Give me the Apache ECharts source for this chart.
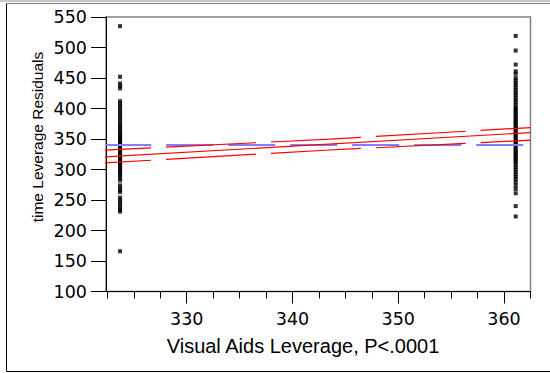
<!DOCTYPE html>
<html><head><meta charset="utf-8">
<script src="https://cdn.jsdelivr.net/npm/echarts@6/dist/echarts.min.js"></script>
<style>html,body{margin:0;padding:0;background:#fff}#c{width:550px;height:373px}</style>
</head><body><div id="c"></div>
<script>
// ---- data ----
const leftGroupX = 323.7;
const rightGroupX = 361.1;
const leftResiduals = [535, 452, 441, 437, 433, 412, 408, 404, 400, 396, 392, 388, 384, 380, 376, 372, 369, 366, 362, 359, 356, 353, 350, 347, 344, 341, 338, 335, 332, 329, 326, 323, 320, 317, 314, 311, 308, 305, 302, 299, 296, 293, 290, 286, 282, 274, 270, 266, 263, 254, 250, 246, 242, 238, 234, 231, 166];
const rightResiduals = [519, 495, 472, 461, 457, 450, 446, 442, 438, 434, 430, 426, 422, 418, 414, 410, 406, 402, 399, 396, 393, 390, 387, 384, 381, 378, 375, 372, 369, 366, 363, 360, 357, 354, 351, 348, 345, 342, 339, 336, 333, 330, 327, 324, 321, 318, 315, 312, 308, 304, 300, 296, 292, 288, 284, 279, 274, 268, 261, 240, 223];
const fitX = [322.2, 362.5];
const fitY = [320.7, 360.5];
const bandX = [322.2, 343.5, 362.5];
const upperY = [331.6, 349.8, 368.8];
const lowerY = [310.7, 332.0, 348.0];
const meanX = [322.2, 362.5];
const meanY = [340, 340];
const xMajorTicks = [330, 340, 350, 360];
const xMinorTicks = [322.5, 325, 327.5, 332.5, 335, 337.5, 342.5, 345, 347.5, 352.5, 355, 357.5, 362.5];
const xTitle = 'Visual Aids Leverage, P<.0001';
const yTitle = 'time Leverage Residuals';

const zip = (xs, ys) => xs.map((x, i) => [x, ys[i]]);
const XMIN = 322.37, XMAX = 362.5;

const chart = echarts.init(document.getElementById('c'), null, {renderer: 'svg'});
chart.setOption({
  animation: false,
  backgroundColor: '#fff',
  grid: {left: 106, top: 17, width: 424.5, height: 274.5, show: true, borderColor: '#808080', borderWidth: 1.5, backgroundColor: 'transparent'},
  xAxis: [{
    type: 'value', min: XMIN, max: XMAX, position: 'bottom', offset: 0,
    axisLine: {show: true, onZero: false, lineStyle: {color: '#000', width: 1}},
    axisTick: {show: true, length: 12, customValues: xMajorTicks, lineStyle: {color: '#000'}},
    axisLabel: {show: true, customValues: xMajorTicks, margin: 18, color: '#000', fontSize: 17.5, fontFamily: 'DejaVu Sans'},
    splitLine: {show: false}
  }, {
    type: 'value', min: XMIN, max: XMAX, position: 'bottom', offset: 0,
    axisLine: {show: false},
    axisTick: {show: true, length: 7, customValues: xMinorTicks, lineStyle: {color: '#000'}},
    axisLabel: {show: false},
    splitLine: {show: false}
  }],
  yAxis: {
    type: 'value', min: 100, max: 550, interval: 50,
    axisLine: {show: true, onZero: false, lineStyle: {color: '#000', width: 1}},
    axisTick: {show: true, length: 15, lineStyle: {color: '#000'}},
    axisLabel: {margin: 19, color: '#000', fontSize: 17.5, fontFamily: 'DejaVu Sans'},
    splitLine: {show: false}
  },
  graphic: [
    {type: 'rect', shape: {x: 6.5, y: 3.5, width: 545, height: 368}, style: {fill: 'none', stroke: '#000', lineWidth: 1}, silent: true, z: 0},
    {type: 'line', shape: {x1: 0, y1: 1, x2: 550, y2: 1}, style: {stroke: '#c8c8c8', lineWidth: 2}, silent: true},
    {type: 'line', shape: {x1: 6, y1: 3.5, x2: 550, y2: 3.5}, style: {stroke: '#808080', lineWidth: 1}, silent: true},
    {type: 'text', x: 303, y: 346, style: {text: xTitle, font: '20px "Liberation Sans"', fill: '#000', align: 'center', verticalAlign: 'middle'}, silent: true},
    {type: 'text', x: 37, y: 137, rotation: Math.PI / 2, style: {text: yTitle, font: '15.5px "Liberation Sans"', fill: '#000', align: 'center', verticalAlign: 'middle'}, silent: true}
  ],
  series: [
    {type: 'scatter', data: leftResiduals.map(v => [leftGroupX, v]), symbol: 'rect', symbolSize: 4, itemStyle: {color: '#000'}, z: 2},
    {type: 'scatter', data: rightResiduals.map(v => [rightGroupX, v]), symbol: 'rect', symbolSize: 4, itemStyle: {color: '#000'}, z: 2},
    {type: 'line', data: zip(meanX, meanY), symbol: 'none', clip: false, lineStyle: {color: '#8080ff', width: 2, type: [47, 15]}, z: 4},
    {type: 'line', data: zip(fitX, fitY), symbol: 'none', clip: false, lineStyle: {color: '#ff0000', width: 1.2}, z: 5},
    {type: 'line', data: zip(bandX, upperY), symbol: 'none', clip: false, lineStyle: {color: '#ff0000', width: 1.2, type: [90, 15], dashOffset: 43}, z: 5},
    {type: 'line', data: zip(bandX, lowerY), symbol: 'none', clip: false, lineStyle: {color: '#ff0000', width: 1.2, type: [90, 15], dashOffset: 43}, z: 5}
  ]
});
</script></body></html>
